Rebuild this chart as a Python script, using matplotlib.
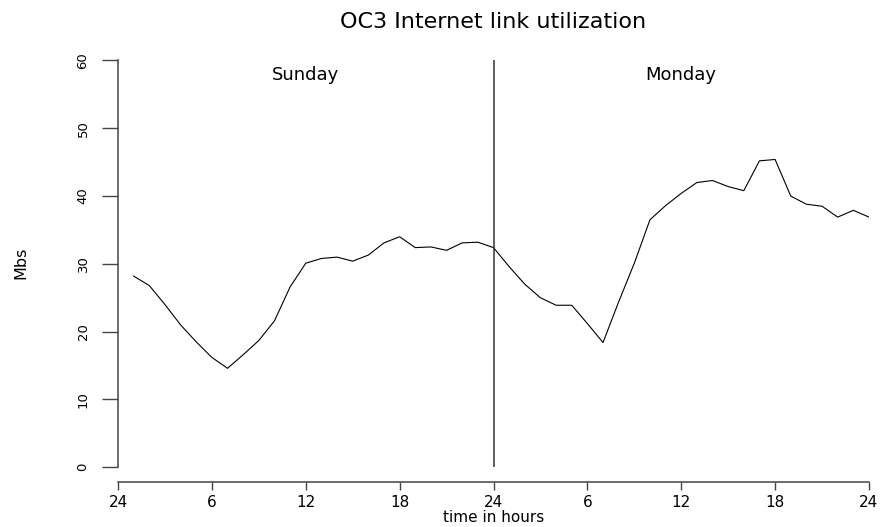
import matplotlib
matplotlib.use('Agg')
import matplotlib.pyplot as plt

# hourly link load, Sunday 01h .. Monday 24h
hours = list(range(1, 49))
sunday = [28.2, 26.8, 24.0, 21.0, 18.5, 16.2, 14.6, 16.6, 18.7, 21.6, 26.6, 30.1,
          30.8, 31.0, 30.4, 31.3, 33.1, 34.0, 32.4, 32.5, 32.0, 33.1, 33.2, 32.4]
monday = [29.6, 27.0, 25.0, 23.9, 23.9, 21.2, 18.4, 24.4, 30.1, 36.5, 38.6, 40.4,
          42.0, 42.3, 41.4, 40.8, 45.2, 45.4, 40.0, 38.8, 38.5, 36.9, 37.9, 36.9]
mbs = sunday + monday

xtick_pos = [0, 6, 12, 18, 24, 30, 36, 42, 48]
xtick_lab = ['24', '6', '12', '18', '24', '6', '12', '18', '24']
ytick_pos = [0, 10, 20, 30, 40, 50, 60]

plt.rcParams['font.family'] = ['DejaVu Sans']

fig = plt.figure(figsize=(8.86, 5.27), dpi=100)
ax = fig.add_axes([0.1332, 0.0854, 0.8476, 0.8307])

ax.plot(hours, mbs, color='black', lw=0.8)
ax.vlines(24, 0, 60, color='#333333', lw=1.1)

ax.text(12, 57.9, 'Sunday', ha='center', va='center', fontsize=13)
ax.text(36, 57.9, 'Monday', ha='center', va='center', fontsize=13)

ax.set_xlim(0, 48)
ax.set_ylim(-2.17, 62.4)

# R-style axes: only left and bottom, lines spanning the tick range
for s in ['top', 'right']:
    ax.spines[s].set_visible(False)
ax.spines['left'].set_bounds(0, 60)
ax.spines['bottom'].set_bounds(0, 48)
for s in ['left', 'bottom']:
    ax.spines[s].set_color('#444444')
    ax.spines[s].set_linewidth(1.1)

ax.set_xticks(xtick_pos)
ax.set_xticklabels(xtick_lab)
ax.set_yticks(ytick_pos)
ax.tick_params(axis='x', length=6, width=1.0, color='#444444', pad=3.5, labelsize=11)
ax.tick_params(axis='y', length=11.5, width=1.0, color='#444444', pad=9, labelsize=9.5,
               labelrotation=90)
for lab in ax.get_yticklabels():
    lab.set_va('center')

ax.set_title('OC3 Internet link utilization', fontsize=16, pad=12)
ax.set_xlabel('time in hours', fontsize=11, labelpad=0)
ax.set_ylabel('Mbs', fontsize=11.5)
ax.yaxis.set_label_coords(-0.12, 0.5)

plt.savefig('out.png', dpi=100)
